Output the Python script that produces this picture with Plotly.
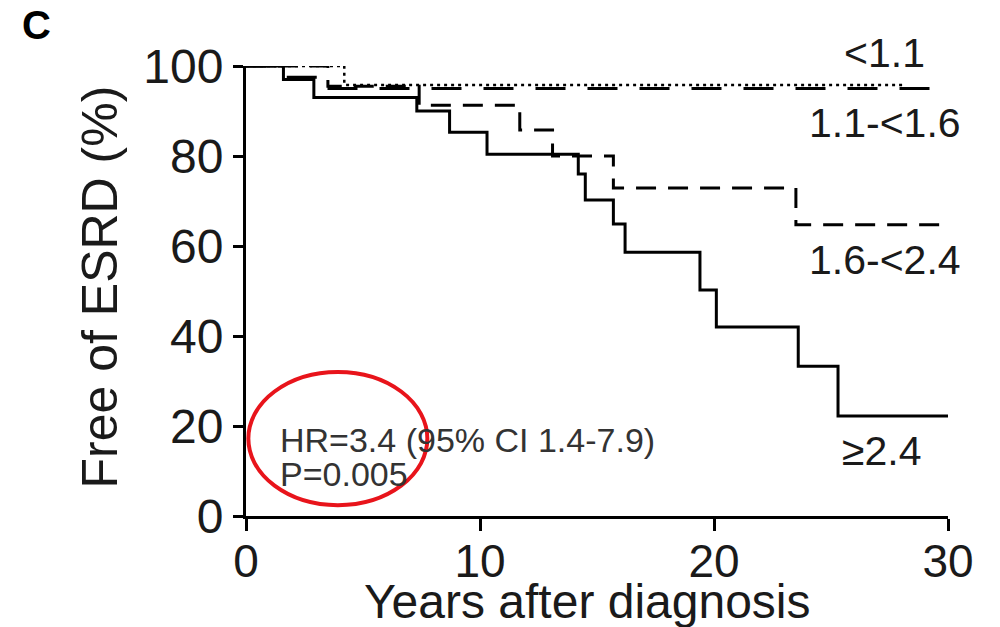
import plotly.graph_objects as go

# ---- data ----
t_ge24 = [0, 1.6, 2.9, 7.3, 8.7, 10.3, 14.2, 14.5, 15.7, 16.2, 19.4, 20.1, 23.6, 25.3, 30.2]
s_ge24 = [100, 97, 93, 90, 85.3, 80.4, 76, 70.2, 64.9, 58.6, 50.2, 42, 33.3, 22.2, 22.2]

t_16_24 = [0, 3.5, 7.4, 11.7, 13.1, 15.7, 23.5, 30.2]
s_16_24 = [100, 95.5, 91.3, 85.8, 80.0, 72.9, 64.7, 64.7]

t_11_16 = [0, 1.6, 3.1, 30.0]
s_11_16 = [100, 97.5, 95.0, 94.7]

t_lt11 = [0, 4.2, 28.2]
s_lt11 = [100, 95.8, 95.8]

x_ticks = [0, 10, 20, 30]
y_ticks = [0, 20, 40, 60, 80, 100]

labels = ["<1.1", "1.1-<1.6", "1.6-<2.4", "\u22652.4"]
label_px = [0.849, 0.799, 0.799, 0.846]
label_py = [1.029, 0.873, 0.569, 0.144]

x_title = "Years after diagnosis"
y_title = "Free of ESRD (%)"
hr_text = "HR=3.4 (95% CI 1.4-7.9)"
p_text = "P=0.005"

FONT = "Liberation Sans, Arial, sans-serif"
TXT = "#1a1a1a"

fig = go.Figure()

def add(t, s, dash, width=3):
    fig.add_trace(go.Scatter(x=t, y=s, mode="lines", line=dict(shape="hv", color="black", width=width, dash=dash),
                             cliponaxis=False, showlegend=False, hoverinfo="skip"))

add(t_lt11, s_lt11, "3px,4px", 2.5)
add(t_11_16, s_11_16, "30px,22px", 3)
add(t_16_24, s_16_24, "20px,12px", 3)
add(t_ge24, s_ge24, "solid", 3)

for lab, lx, ly in zip(labels, label_px, label_py):
    fig.add_annotation(xref="paper", yref="paper", x=lx, y=ly, text=lab, showarrow=False,
                       xanchor="left", yanchor="middle",
                       font=dict(family=FONT, size=41, color=TXT))

fig.add_annotation(x=1.35, y=17.0, text=hr_text, showarrow=False, xanchor="left", yanchor="middle",
                   font=dict(family=FONT, size=34, color="#333333"))
fig.add_annotation(x=1.35, y=9.3, text=p_text, showarrow=False, xanchor="left", yanchor="middle",
                   font=dict(family=FONT, size=34, color="#333333"))

# red ellipse highlight
fig.add_shape(type="circle", xref="x", yref="y", x0=0.1, x1=7.75, y0=2.4, y1=32.0,
              line=dict(color="#e8141b", width=4))

fig.add_annotation(xref="paper", yref="paper", x=-0.322, y=1.09, text="<b>C</b>", showarrow=False,
                   xanchor="left", yanchor="middle", font=dict(family=FONT, size=40, color="black"))

# axis titles
fig.add_annotation(xref="paper", yref="paper", x=0.487, y=-0.19, text=x_title, showarrow=False,
                   xanchor="center", yanchor="middle", font=dict(family=FONT, size=48, color=TXT))
fig.add_annotation(xref="paper", yref="paper", x=-0.208, y=0.51, text=y_title, showarrow=False,
                   textangle=-90, xanchor="center", yanchor="middle", font=dict(family=FONT, size=50, color=TXT))

fig.update_layout(
    width=1000, height=627,
    margin=dict(l=246, r=52, t=66, b=111),
    paper_bgcolor="white", plot_bgcolor="white",
    xaxis=dict(range=[0, 30], tickvals=x_ticks, ticks="outside", ticklen=12, tickwidth=3, tickcolor="black",
               showline=True, linewidth=3, linecolor="black", showgrid=False, zeroline=False,
               ticklabelstandoff=-9, automargin=False,
               tickfont=dict(family=FONT, size=46, color=TXT)),
    yaxis=dict(range=[0, 100], tickvals=y_ticks, ticks="outside", ticklen=10, tickwidth=3, tickcolor="black",
               showline=True, linewidth=3, linecolor="black", showgrid=False, zeroline=False,
               automargin=False,
               tickfont=dict(family=FONT, size=48, color=TXT)),
)

fig.write_html("out.html")
